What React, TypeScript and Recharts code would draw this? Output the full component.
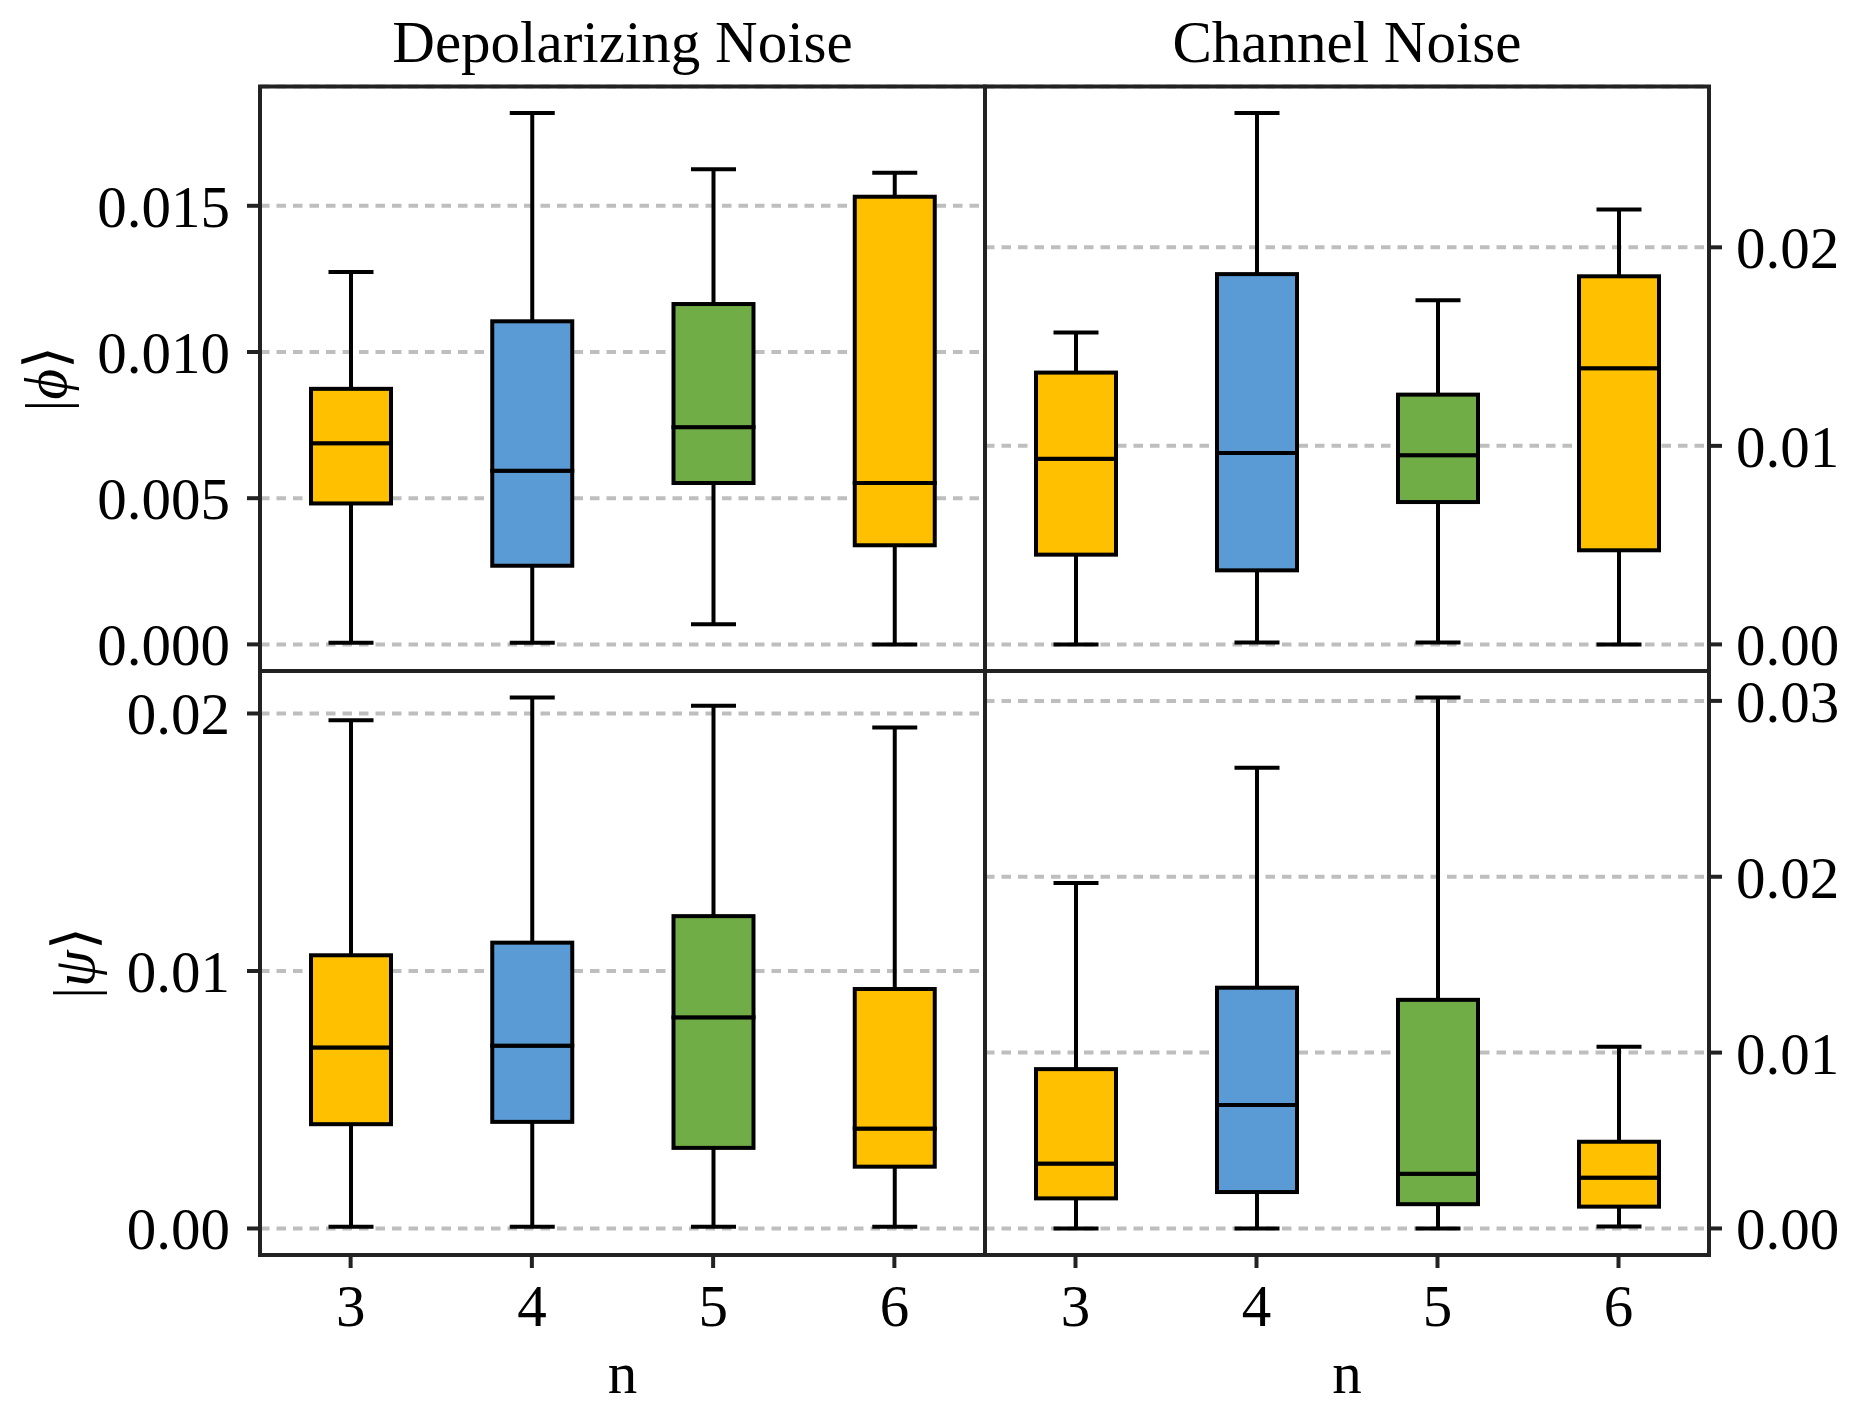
import React from "react";
import { ComposedChart, Bar, XAxis, YAxis, CartesianGrid, ReferenceArea } from "recharts";

const W = 1857;
const H = 1408;
const FONT = '"Liberation Serif", "Times New Roman", serif';
const FS = 59;

const categories = ["3", "4", "5", "6"];
const boxColors = ["#FFC000", "#5B9BD5", "#70AD47", "#FFC000"];

// each row: [low whisker, Q1, median, Q3, high whisker]
const depolPhi = [
    [0.00006, 0.00482, 0.00688, 0.00874, 0.01274],
    [0.00006, 0.00269, 0.00594, 0.01105, 0.01817],
    [0.00069, 0.00552, 0.00743, 0.01164, 0.01625],
    [0.0, 0.00339, 0.00552, 0.01531, 0.01613],
];
const channelPhi = [
    [0.0, 0.00452, 0.00935, 0.01369, 0.01571],
    [0.00009, 0.00373, 0.00964, 0.01865, 0.02676],
    [0.00009, 0.00717, 0.00953, 0.01258, 0.01733],
    [0.0, 0.00474, 0.01391, 0.01854, 0.02191],
];
const depolPsi = [
    [0.00007, 0.00405, 0.00703, 0.01061, 0.01974],
    [0.00007, 0.00414, 0.0071, 0.0111, 0.02062],
    [0.00007, 0.00313, 0.0082, 0.01213, 0.0203],
    [0.00007, 0.0024, 0.00388, 0.0093, 0.01946],
];
const channelPsi = [
    [0.0, 0.00171, 0.00369, 0.00906, 0.01964],
    [0.0, 0.00207, 0.00702, 0.01369, 0.0262],
    [0.0, 0.00138, 0.00311, 0.013, 0.03019],
    [0.00011, 0.00124, 0.00289, 0.00493, 0.01033],
];

const depolPhiTicks = [0, 0.005, 0.01, 0.015];
const channelPhiTicks = [0, 0.01, 0.02];
const depolPsiTicks = [0, 0.01, 0.02];
const channelPsiTicks = [0, 0.01, 0.02, 0.03];

const depolPhiDomain = [-0.00091, 0.01908];
const channelPhiDomain = [-0.00134, 0.0281];
const depolPsiDomain = [-0.00103, 0.02165];
const channelPsiDomain = [-0.00151, 0.0317];

const LINE = "#000";
const LW = 4;
const CAP = 45;
const SPINE = "#222";

const toRows = (stats: number[][]) =>
    stats.map(([lo, q1, med, q3, hi], i) => ({
        n: categories[i],
        base: lo,
        lowW: q1 - lo,
        boxLo: med - q1,
        boxHi: q3 - med,
        highW: hi - q3,
    }));

const span = (p: any) => {
    const top = Math.min(p.y, p.y + p.height);
    const bottom = Math.max(p.y, p.y + p.height);
    return { top, bottom, cx: p.x + p.width / 2 };
};

const Empty = () => <g />;

const LowerWhisker = (p: any) => {
    const { top, bottom, cx } = span(p);
    return (
        <g>
            <line x1={cx} x2={cx} y1={top} y2={bottom} stroke={LINE} strokeWidth={LW} />
            <line x1={cx - CAP / 2} x2={cx + CAP / 2} y1={bottom} y2={bottom} stroke={LINE} strokeWidth={LW} />
        </g>
    );
};

const UpperWhisker = (p: any) => {
    const { top, bottom, cx } = span(p);
    return (
        <g>
            <line x1={cx} x2={cx} y1={top} y2={bottom} stroke={LINE} strokeWidth={LW} />
            <line x1={cx - CAP / 2} x2={cx + CAP / 2} y1={top} y2={top} stroke={LINE} strokeWidth={LW} />
        </g>
    );
};

const BoxPart = (p: any) => {
    const { top, bottom } = span(p);
    return (
        <rect
            x={p.x}
            y={top}
            width={p.width}
            height={bottom - top}
            fill={boxColors[p.index % boxColors.length]}
            stroke={LINE}
            strokeWidth={LW}
        />
    );
};

interface PanelProps {
    stats: number[][];
    ticks: number[];
    domain: number[];
    decimals: number;
    side: "left" | "right";
    showX: boolean;
    x0: number;
    x1: number;
    y0: number;
    y1: number;
}

const AXIS_W = 60;
const AXIS_H = 40;

const Panel = ({ stats, ticks, domain, decimals, side, showX, x0, x1, y0, y1 }: PanelProps) => {
    const data = toRows(stats);
    const margin = {
        top: y0,
        bottom: H - y1 - AXIS_H,
        left: side === "left" ? x0 - AXIS_W : x0,
        right: side === "right" ? W - x1 - AXIS_W : W - x1,
    };
    const tickStyle = { fill: "#000", fontSize: FS, fontFamily: FONT };
    return (
        <div style={{ position: "absolute", left: 0, top: 0 }}>
            <ComposedChart width={W} height={H} data={data} margin={margin} barCategoryGap={0}>
                <CartesianGrid
                    yAxisId="v"
                    vertical={false}
                    stroke="#bebebe"
                    strokeWidth={4}
                    strokeDasharray="9.5 7"
                />
                <XAxis
                    dataKey="n"
                    type="category"
                    height={AXIS_H}
                    interval={0}
                    axisLine={false}
                    tick={showX ? tickStyle : false}
                    tickLine={showX ? { stroke: SPINE, strokeWidth: 4 } : false}
                    tickSize={13}
                    tickMargin={16}
                />
                <YAxis
                    yAxisId="v"
                    type="number"
                    orientation={side}
                    width={AXIS_W}
                    domain={domain}
                    ticks={ticks}
                    interval={0}
                    allowDataOverflow
                    axisLine={false}
                    tick={tickStyle}
                    tickLine={{ stroke: SPINE, strokeWidth: 4 }}
                    tickSize={13}
                    tickMargin={side === "left" ? 17 : 14}
                    tickFormatter={(v: number) => v.toFixed(decimals)}
                />
                <ReferenceArea
                    yAxisId="v"
                    x1={categories[0]}
                    x2={categories[categories.length - 1]}
                    y1={domain[0]}
                    y2={domain[1]}
                    fill="none"
                    fillOpacity={0}
                    stroke={SPINE}
                    strokeWidth={4}
                    ifOverflow="visible"
                />
                <Bar yAxisId="v" dataKey="base" stackId="b" barSize={80} shape={<Empty />} isAnimationActive={false} />
                <Bar yAxisId="v" dataKey="lowW" stackId="b" barSize={80} shape={<LowerWhisker />} isAnimationActive={false} />
                <Bar yAxisId="v" dataKey="boxLo" stackId="b" barSize={80} shape={<BoxPart />} isAnimationActive={false} />
                <Bar yAxisId="v" dataKey="boxHi" stackId="b" barSize={80} shape={<BoxPart />} isAnimationActive={false} />
                <Bar yAxisId="v" dataKey="highW" stackId="b" barSize={80} shape={<UpperWhisker />} isAnimationActive={false} />
            </ComposedChart>
        </div>
    );
};

const LX = 260;
const MX = 985;
const RX = 1709;
const TY = 86.5;
const MY = 671;
const BY = 1255;

export default function App() {
    return (
        <div style={{ position: "absolute", left: 0, top: 0, width: W, height: H, background: "#fff" }}>
            <Panel stats={depolPhi} ticks={depolPhiTicks} domain={depolPhiDomain} decimals={3} side="left" showX={false} x0={LX} x1={MX} y0={TY} y1={MY} />
            <Panel stats={channelPhi} ticks={channelPhiTicks} domain={channelPhiDomain} decimals={2} side="right" showX={false} x0={MX} x1={RX} y0={TY} y1={MY} />
            <Panel stats={depolPsi} ticks={depolPsiTicks} domain={depolPsiDomain} decimals={2} side="left" showX x0={LX} x1={MX} y0={MY} y1={BY} />
            <Panel stats={channelPsi} ticks={channelPsiTicks} domain={channelPsiDomain} decimals={2} side="right" showX x0={MX} x1={RX} y0={MY} y1={BY} />
            <svg width={W} height={H} style={{ position: "absolute", left: 0, top: 0, pointerEvents: "none" }}>
                <g fontFamily={FONT} fontSize={FS} fill="#000">
                    <text x={(LX + MX) / 2} y={62} textAnchor="middle">Depolarizing Noise</text>
                    <text x={(MX + RX) / 2} y={62} textAnchor="middle">Channel Noise</text>
                    <text x={(LX + MX) / 2} y={1393} textAnchor="middle">n</text>
                    <text x={(MX + RX) / 2} y={1393} textAnchor="middle">n</text>
                    <text transform={`translate(46, ${(TY + MY) / 2}) rotate(-90)`} textAnchor="middle" dominantBaseline="central">
                        |<tspan fontStyle="italic">ϕ</tspan>⟩
                    </text>
                    <text transform={`translate(74, ${(MY + BY) / 2}) rotate(-90)`} textAnchor="middle" dominantBaseline="central">
                        |<tspan fontStyle="italic">ψ</tspan>⟩
                    </text>
                </g>
            </svg>
        </div>
    );
}
